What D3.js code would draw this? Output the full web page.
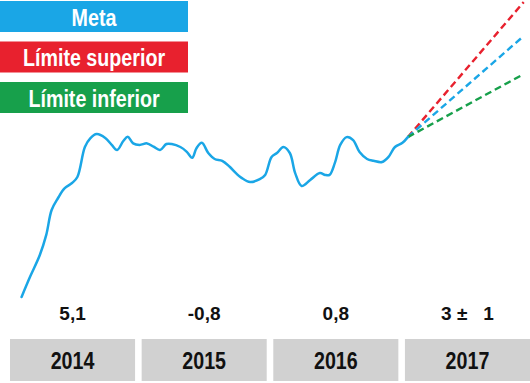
<!DOCTYPE html>
<html><head><meta charset="utf-8">
<script src="https://cdn.jsdelivr.net/npm/d3@7"></script>
<style>body{margin:0;background:#fff}svg{display:block}</style>
</head><body>
<svg id="c" width="530" height="383"></svg>
<script>
const years = ["2014", "2015", "2016", "2017"];
const yearValues = ["5,1", "-0,8", "0,8", "3 ±   1"];
const legendLabels = ["Meta", "Límite superior", "Límite inferior"];
const legendColors = ["#1aa6e6", "#e8212e", "#17a04b"];
const months = [0.8,1.6,2.5,3.1,3.6,4.2,4.8,5.5,6.0,6.7,7.2,7.8,8.6,9.2,9.7,10.3,10.7,11.2,11.8,12.5,13.1,13.7,14.3,14.8,15.6,16.2,16.7,17.1,17.6,18.2,18.8,19.5,20.2,20.8,21.3,22.1,23.0,23.5,24.1,24.6,25.2,25.8,26.3,26.9,27.7,28.6,29.1,29.5,30.0,30.5,31.1,31.7,32.3,33.0,33.6,34.4,35.0,35.6,36.3,36.8];
const index = [1.0,7.8,15.0,21.7,30.0,34.0,37.2,39.0,41.0,51.0,53.9,55.3,54.0,51.7,50.0,53.1,54.4,52.2,51.7,52.2,51.1,50.0,52.0,52.0,51.0,49.4,47.4,50.6,52.4,49.0,47.0,46.4,44.4,42.2,40.7,39.3,40.3,41.7,47.7,49.0,51.0,49.0,42.3,38.0,40.0,42.3,41.7,41.7,45.7,51.7,54.3,53.3,49.3,47.0,46.4,46.0,47.7,51.0,52.4,54.3];
const projMonths = [36.8, 47.6];
const projMeta = [54.3, 88.0];
const projSup = [54.3, 99.3];
const projInf = [54.3, 75.3];

const svg = d3.select("#c");
const sans = "'Liberation Sans',Arial,Helvetica,sans-serif";
const x = d3.scaleLinear().domain([0, 48]).range([13, 528]);
const y = d3.scaleLinear().domain([0, 100]).range([300, 0]);
const band = d3.scaleBand().domain(years).range([10, 530]).paddingInner(0.05);

// narrow bold text helper (simulated condensed face)
function narrowText(sel, cx, cy, size, fill, txt) {
  sel.append("g").attr("transform", `translate(${cx},${cy}) scale(0.82,1)`)
    .append("text").attr("text-anchor", "middle").attr("font-family", sans)
    .attr("font-weight", "bold").attr("font-size", size).attr("fill", fill).text(txt);
}

// legend
const lg = svg.selectAll("g.lg").data(legendLabels).enter().append("g").attr("class", "lg")
  .attr("transform", (d, i) => `translate(0,${1 + i * 40.5})`);
lg.append("rect").attr("width", 188).attr("height", 31).attr("fill", (d, i) => legendColors[i]);
lg.each(function (d) { narrowText(d3.select(this), 94, 24.5, 24, "#fff", d); });

// projections
const line = d3.line().x(d => x(d[0])).y(d => y(d[1]));
const projs = [[projSup, legendColors[1]], [projMeta, legendColors[0]], [projInf, legendColors[2]]];
projs.forEach(([vals, col]) => {
  svg.append("path").datum(projMonths.map((m, i) => [m, vals[i]]))
    .attr("d", line).attr("fill", "none").attr("stroke", col)
    .attr("stroke-width", 2.4).attr("stroke-dasharray", "7,4");
});

// main line
const smooth = d3.line().x(d => x(d[0])).y(d => y(d[1])).curve(d3.curveCatmullRom.alpha(0.5));
svg.append("path").datum(months.map((m, i) => [m, index[i]]))
  .attr("d", smooth).attr("fill", "none").attr("stroke", legendColors[0])
  .attr("stroke-width", 2.5).attr("stroke-linejoin", "round").attr("stroke-linecap", "round");

// year boxes
svg.selectAll("rect.yb").data(years).enter().append("rect").attr("class", "yb")
  .attr("x", d => band(d)).attr("y", 339).attr("width", band.bandwidth()).attr("height", 42)
  .attr("fill", "#d1d1d1");
years.forEach(d => narrowText(svg, band(d) + band.bandwidth() / 2, 369, 24, "#111", d));
svg.selectAll("text.yv").data(years).enter().append("text").attr("class", "yv")
  .attr("x", d => band(d) + band.bandwidth() / 2).attr("y", 320)
  .attr("text-anchor", "middle").attr("font-family", sans).attr("font-weight", "bold")
  .attr("font-size", 19).attr("fill", "#111").style("white-space", "pre")
  .text((d, i) => yearValues[i]);
</script>
</body></html>
